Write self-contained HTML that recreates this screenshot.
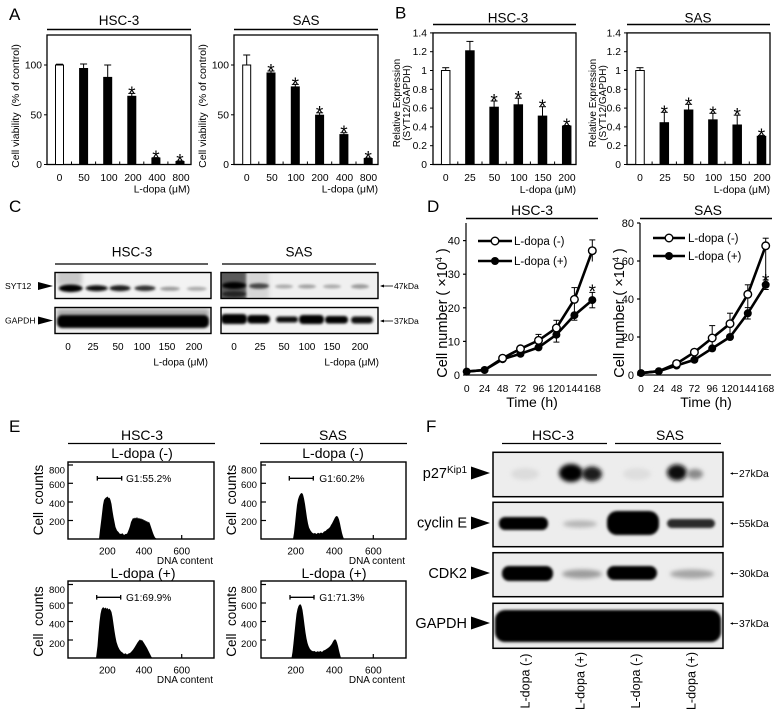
<!DOCTYPE html>
<html><head><meta charset="utf-8"><style>html,body{margin:0;padding:0;background:#fff}svg{display:block}</style></head>
<body>
<svg width="781" height="718" viewBox="0 0 781 718" xmlns="http://www.w3.org/2000/svg" font-family="Liberation Sans, Arial, sans-serif" fill="#000">
<defs>
<filter id="b1" x="-50%" y="-50%" width="200%" height="200%"><feGaussianBlur stdDeviation="1.2"/></filter>
<filter id="b2" x="-50%" y="-50%" width="200%" height="200%"><feGaussianBlur stdDeviation="2.2"/></filter>
<filter id="b3" x="-50%" y="-50%" width="200%" height="200%"><feGaussianBlur stdDeviation="3.5"/></filter>
<clipPath id="c1"><rect x="55" y="272.5" width="156" height="26"/></clipPath>
<clipPath id="c2"><rect x="221" y="272.5" width="157" height="26"/></clipPath>
<clipPath id="c3"><rect x="55" y="307.5" width="156" height="26"/></clipPath>
<clipPath id="c4"><rect x="221" y="307.5" width="157" height="26"/></clipPath>
<clipPath id="f1"><rect x="493" y="452.3" width="230" height="44.4"/></clipPath>
<clipPath id="f2"><rect x="493" y="502.3" width="230" height="44.4"/></clipPath>
<clipPath id="f3"><rect x="493" y="552.7" width="230" height="44"/></clipPath>
<clipPath id="f4"><rect x="493" y="603.3" width="230" height="45"/></clipPath>
</defs>

<!-- ============ PANEL A ============ -->
<text x="9" y="20" font-size="17">A</text>
<!-- HSC-3 -->
<text x="119" y="25" font-size="13.5" text-anchor="middle">HSC-3</text>
<line x1="47" y1="29.5" x2="191" y2="29.5" stroke="#000" stroke-width="1.6"/>
<rect x="47" y="35" width="144" height="129.5" fill="none" stroke="#000" stroke-width="1.3"/>
<g stroke="#000" stroke-width="1"><line x1="44" y1="65" x2="47" y2="65"/><line x1="44" y1="114.8" x2="47" y2="114.8"/><line x1="44" y1="164.5" x2="47" y2="164.5"/>
<line x1="71.5" y1="164.5" x2="71.5" y2="161.5"/><line x1="95.6" y1="164.5" x2="95.6" y2="161.5"/><line x1="119.7" y1="164.5" x2="119.7" y2="161.5"/><line x1="143.8" y1="164.5" x2="143.8" y2="161.5"/><line x1="167.9" y1="164.5" x2="167.9" y2="161.5"/></g>
<g font-size="10.3" text-anchor="end"><text x="42" y="68.7">100</text><text x="42" y="118.5">50</text><text x="42" y="168.2">0</text></g>
<text transform="translate(19,106) rotate(-90)" font-size="10.5" text-anchor="middle" xml:space="preserve">Cell viability  (% of control)</text>
<g stroke="#000" stroke-width="1">
<rect x="55.5" y="65" width="8" height="99.5" fill="#fff"/>
<line x1="59.5" y1="65" x2="59.5" y2="64.2"/><line x1="56" y1="64.2" x2="63" y2="64.2"/>
<rect x="79.6" y="68.5" width="8" height="96" fill="#000"/><line x1="83.6" y1="68.5" x2="83.6" y2="64"/><line x1="80.1" y1="64" x2="87.1" y2="64"/>
<rect x="103.7" y="77.4" width="8" height="87.1" fill="#000"/><line x1="107.7" y1="77.4" x2="107.7" y2="65"/><line x1="104.2" y1="65" x2="111.2" y2="65"/>
<rect x="127.8" y="96.3" width="8" height="68.2" fill="#000"/><line x1="131.8" y1="96.3" x2="131.8" y2="93.4"/><line x1="128.3" y1="93.4" x2="135.3" y2="93.4"/>
<rect x="151.9" y="158" width="8" height="6.5" fill="#000"/><line x1="152.4" y1="157.6" x2="159.4" y2="157.6"/>
<rect x="176" y="161.5" width="8" height="3" fill="#000"/><line x1="176.5" y1="160.9" x2="183.5" y2="160.9"/>
</g>
<g font-size="19" text-anchor="middle"><text x="131.8" y="100">*</text><text x="155.9" y="164">*</text><text x="180" y="167.4">*</text></g>
<g font-size="10.3" text-anchor="middle"><text x="59.5" y="181">0</text><text x="84" y="181">50</text><text x="109" y="181">100</text><text x="133" y="181">200</text><text x="157" y="181">400</text><text x="181" y="181">800</text></g>
<text x="190" y="192.5" font-size="10.3" text-anchor="end">L-dopa (μM)</text>

<!-- SAS -->
<text x="306" y="25" font-size="13.5" text-anchor="middle">SAS</text>
<line x1="234" y1="29.5" x2="378" y2="29.5" stroke="#000" stroke-width="1.6"/>
<rect x="234" y="35" width="144" height="129.5" fill="none" stroke="#000" stroke-width="1.3"/>
<g stroke="#000" stroke-width="1"><line x1="231" y1="65" x2="234" y2="65"/><line x1="231" y1="114.8" x2="234" y2="114.8"/><line x1="231" y1="164.5" x2="234" y2="164.5"/>
<line x1="258.8" y1="164.5" x2="258.8" y2="161.5"/><line x1="283.1" y1="164.5" x2="283.1" y2="161.5"/><line x1="307.4" y1="164.5" x2="307.4" y2="161.5"/><line x1="331.7" y1="164.5" x2="331.7" y2="161.5"/><line x1="356" y1="164.5" x2="356" y2="161.5"/></g>
<g font-size="10.3" text-anchor="end"><text x="229" y="68.7">100</text><text x="229" y="118.5">50</text><text x="229" y="168.2">0</text></g>
<text transform="translate(206,106) rotate(-90)" font-size="10.5" text-anchor="middle" xml:space="preserve">Cell viability  (% of control)</text>
<g stroke="#000" stroke-width="1">
<rect x="242.7" y="65" width="8" height="99.5" fill="#fff"/><line x1="246.7" y1="65" x2="246.7" y2="55"/><line x1="243.2" y1="55" x2="250.2" y2="55"/>
<rect x="267" y="73" width="8" height="91.5" fill="#000"/><line x1="271" y1="73" x2="271" y2="71"/><line x1="267.5" y1="71" x2="274.5" y2="71"/>
<rect x="291.3" y="86.9" width="8" height="77.6" fill="#000"/><line x1="295.3" y1="86.9" x2="295.3" y2="84.4"/><line x1="291.8" y1="84.4" x2="298.8" y2="84.4"/>
<rect x="315.6" y="115.2" width="8" height="49.3" fill="#000"/><line x1="319.6" y1="115.2" x2="319.6" y2="112.8"/><line x1="316.1" y1="112.8" x2="323.1" y2="112.8"/>
<rect x="339.9" y="134.6" width="8" height="29.9" fill="#000"/><line x1="343.9" y1="134.6" x2="343.9" y2="132.7"/><line x1="340.4" y1="132.7" x2="347.4" y2="132.7"/>
<rect x="364.2" y="158.5" width="8" height="6" fill="#000"/><line x1="364.7" y1="158" x2="371.7" y2="158"/>
</g>
<g font-size="19" text-anchor="middle"><text x="271" y="77.5">*</text><text x="295.3" y="90.9">*</text><text x="319.6" y="119.3">*</text><text x="343.9" y="139.2">*</text><text x="368.2" y="164.5">*</text></g>
<g font-size="10.3" text-anchor="middle"><text x="246.7" y="181">0</text><text x="272" y="181">50</text><text x="296" y="181">100</text><text x="320" y="181">200</text><text x="344.5" y="181">400</text><text x="368.5" y="181">800</text></g>
<text x="378" y="192.5" font-size="10.3" text-anchor="end">L-dopa (μM)</text>

<!-- ============ PANEL B ============ -->
<text x="395" y="18.5" font-size="17">B</text>
<text x="508" y="22.5" font-size="13.5" text-anchor="middle">HSC-3</text>
<line x1="433" y1="24.5" x2="576" y2="24.5" stroke="#000" stroke-width="1.6"/>
<rect x="433" y="32.9" width="143" height="131.6" fill="none" stroke="#000" stroke-width="1.3"/>
<g stroke="#000" stroke-width="1"><line x1="430" y1="164.5" x2="433" y2="164.5"/><line x1="430" y1="145.7" x2="433" y2="145.7"/><line x1="430" y1="126.9" x2="433" y2="126.9"/><line x1="430" y1="108.1" x2="433" y2="108.1"/><line x1="430" y1="89.3" x2="433" y2="89.3"/><line x1="430" y1="70.5" x2="433" y2="70.5"/><line x1="430" y1="51.7" x2="433" y2="51.7"/><line x1="430" y1="32.9" x2="433" y2="32.9"/>
<line x1="457.8" y1="164.5" x2="457.8" y2="161.5"/><line x1="482" y1="164.5" x2="482" y2="161.5"/><line x1="506.2" y1="164.5" x2="506.2" y2="161.5"/><line x1="530.4" y1="164.5" x2="530.4" y2="161.5"/><line x1="554.6" y1="164.5" x2="554.6" y2="161.5"/></g>
<g font-size="10.3" text-anchor="end"><text x="427" y="168">0</text><text x="427" y="149.2">0.2</text><text x="427" y="130.4">0.4</text><text x="427" y="111.6">0.6</text><text x="427" y="92.8">0.8</text><text x="427" y="74">1</text><text x="427" y="55.2">1.2</text><text x="427" y="36.4">1.4</text></g>
<text transform="translate(400,103) rotate(-90)" font-size="10" text-anchor="middle">Relative Expression</text>
<text transform="translate(410,103) rotate(-90)" font-size="10" text-anchor="middle">(SYT12/GAPDH)</text>
<g stroke="#000" stroke-width="1">
<rect x="441.45" y="70.5" width="8.5" height="94" fill="#fff"/><line x1="445.7" y1="70.5" x2="445.7" y2="67.7"/><line x1="442.2" y1="67.7" x2="449.2" y2="67.7"/>
<rect x="465.65" y="50.8" width="8.5" height="113.7" fill="#000"/><line x1="469.9" y1="50.8" x2="469.9" y2="41.4"/><line x1="466.4" y1="41.4" x2="473.4" y2="41.4"/>
<rect x="489.85" y="107.2" width="8.5" height="57.3" fill="#000"/><line x1="494.1" y1="107.2" x2="494.1" y2="101"/><line x1="490.6" y1="101" x2="497.6" y2="101"/>
<rect x="514.05" y="104.8" width="8.5" height="59.7" fill="#000"/><line x1="518.3" y1="104.8" x2="518.3" y2="98.2"/><line x1="514.8" y1="98.2" x2="521.8" y2="98.2"/>
<rect x="538.25" y="116.1" width="8.5" height="48.4" fill="#000"/><line x1="542.5" y1="116.1" x2="542.5" y2="106.7"/><line x1="539" y1="106.7" x2="546" y2="106.7"/>
<rect x="562.45" y="126" width="8.5" height="38.5" fill="#000"/><line x1="563.2" y1="125.5" x2="570.2" y2="125.5"/>
</g>
<g font-size="19" text-anchor="middle"><text x="494.1" y="107.5">*</text><text x="518.3" y="104.7">*</text><text x="542.5" y="113.2">*</text><text x="566.7" y="132">*</text></g>
<g font-size="10.3" text-anchor="middle"><text x="445.7" y="181">0</text><text x="470" y="181">25</text><text x="494.5" y="181">50</text><text x="519" y="181">100</text><text x="543" y="181">150</text><text x="567" y="181">200</text></g>
<text x="576" y="193" font-size="10.3" text-anchor="end">L-dopa (μM)</text>

<text x="698" y="22.5" font-size="13.5" text-anchor="middle">SAS</text>
<line x1="627" y1="24.5" x2="770" y2="24.5" stroke="#000" stroke-width="1.6"/>
<rect x="627" y="32.9" width="143" height="131.6" fill="none" stroke="#000" stroke-width="1.3"/>
<g stroke="#000" stroke-width="1"><line x1="624" y1="164.5" x2="627" y2="164.5"/><line x1="624" y1="145.7" x2="627" y2="145.7"/><line x1="624" y1="126.9" x2="627" y2="126.9"/><line x1="624" y1="108.1" x2="627" y2="108.1"/><line x1="624" y1="89.3" x2="627" y2="89.3"/><line x1="624" y1="70.5" x2="627" y2="70.5"/><line x1="624" y1="51.7" x2="627" y2="51.7"/><line x1="624" y1="32.9" x2="627" y2="32.9"/>
<line x1="652.1" y1="164.5" x2="652.1" y2="161.5"/><line x1="676.4" y1="164.5" x2="676.4" y2="161.5"/><line x1="700.7" y1="164.5" x2="700.7" y2="161.5"/><line x1="725" y1="164.5" x2="725" y2="161.5"/><line x1="749.3" y1="164.5" x2="749.3" y2="161.5"/></g>
<g font-size="10.3" text-anchor="end"><text x="621" y="168">0</text><text x="621" y="149.2">0.2</text><text x="621" y="130.4">0.4</text><text x="621" y="111.6">0.6</text><text x="621" y="92.8">0.8</text><text x="621" y="74">1</text><text x="621" y="55.2">1.2</text><text x="621" y="36.4">1.4</text></g>
<text transform="translate(596,103) rotate(-90)" font-size="10" text-anchor="middle">Relative Expression</text>
<text transform="translate(606,103) rotate(-90)" font-size="10" text-anchor="middle">(SYT12/GAPDH)</text>
<g stroke="#000" stroke-width="1">
<rect x="635.75" y="70.5" width="8.5" height="94" fill="#fff"/><line x1="640" y1="70.5" x2="640" y2="67.7"/><line x1="636.5" y1="67.7" x2="643.5" y2="67.7"/>
<rect x="660.05" y="122.7" width="8.5" height="41.8" fill="#000"/><line x1="664.3" y1="122.7" x2="664.3" y2="112.3"/><line x1="660.8" y1="112.3" x2="667.8" y2="112.3"/>
<rect x="684.35" y="110" width="8.5" height="54.5" fill="#000"/><line x1="688.6" y1="110" x2="688.6" y2="104.3"/><line x1="685.1" y1="104.3" x2="692.1" y2="104.3"/>
<rect x="708.65" y="119.85" width="8.5" height="44.65" fill="#000"/><line x1="712.9" y1="119.85" x2="712.9" y2="113.3"/><line x1="709.4" y1="113.3" x2="716.4" y2="113.3"/>
<rect x="732.95" y="125" width="8.5" height="39.5" fill="#000"/><line x1="737.2" y1="125" x2="737.2" y2="115.15"/><line x1="733.7" y1="115.15" x2="740.7" y2="115.15"/>
<rect x="757.25" y="136.3" width="8.5" height="28.2" fill="#000"/><line x1="758" y1="135.4" x2="765" y2="135.4"/>
</g>
<g font-size="19" text-anchor="middle"><text x="664.3" y="118.8">*</text><text x="688.6" y="110.8">*</text><text x="712.9" y="119.8">*</text><text x="737.2" y="121.6">*</text><text x="761.5" y="141.9">*</text></g>
<g font-size="10.3" text-anchor="middle"><text x="640" y="181">0</text><text x="665" y="181">25</text><text x="689" y="181">50</text><text x="713.5" y="181">100</text><text x="738" y="181">150</text><text x="762" y="181">200</text></g>
<text x="770" y="193" font-size="10.3" text-anchor="end">L-dopa (μM)</text>

<!-- ============ PANEL C ============ -->
<text x="9" y="212" font-size="17">C</text>
<text x="132" y="256.5" font-size="13.5" text-anchor="middle">HSC-3</text>
<text x="299" y="256.5" font-size="13.5" text-anchor="middle">SAS</text>
<line x1="55" y1="264" x2="208" y2="264" stroke="#000" stroke-width="1.3"/>
<line x1="222" y1="264" x2="376" y2="264" stroke="#000" stroke-width="1.3"/>
<!-- SYT12 HSC-3 -->
<rect x="55" y="272.5" width="156" height="26" fill="#f3f3f3"/>
<g clip-path="url(#c1)">
<rect x="57" y="270" width="25" height="15" fill="#c8c8c8" filter="url(#b2)"/>
<ellipse cx="70.7" cy="288.3" rx="12" ry="3.8" fill="#000" filter="url(#b1)"/>
<ellipse cx="96.7" cy="288.3" rx="11" ry="3" fill="#111" filter="url(#b1)"/>
<ellipse cx="120" cy="288.3" rx="10.5" ry="3" fill="#1a1a1a" filter="url(#b1)"/>
<ellipse cx="145" cy="288.3" rx="10.5" ry="2.8" fill="#333" filter="url(#b1)"/>
<ellipse cx="170" cy="288.8" rx="10" ry="2" fill="#999" filter="url(#b1)"/>
<ellipse cx="196.7" cy="288.8" rx="10" ry="2" fill="#aaa" filter="url(#b1)"/>
</g>
<rect x="55" y="272.5" width="156" height="26" fill="none" stroke="#000" stroke-width="1.4"/>
<!-- SYT12 SAS -->
<rect x="221" y="272.5" width="157" height="26" fill="#f0f0f0"/>
<g clip-path="url(#c2)">
<rect x="219" y="270" width="28" height="32" fill="#5a5a5a" filter="url(#b1)"/>
<rect x="247" y="270" width="22" height="30" fill="#d6d6d6" filter="url(#b2)"/>
<ellipse cx="234" cy="285.5" rx="12" ry="3.5" fill="#000" filter="url(#b1)"/>
<ellipse cx="234" cy="294" rx="12" ry="3" fill="#222" filter="url(#b1)"/>
<ellipse cx="259" cy="286" rx="10" ry="2.8" fill="#444" filter="url(#b1)"/>
<ellipse cx="284" cy="286.5" rx="9" ry="2" fill="#aaa" filter="url(#b1)"/>
<ellipse cx="307" cy="286.5" rx="9" ry="2" fill="#a0a0a0" filter="url(#b1)"/>
<ellipse cx="332" cy="286.5" rx="9" ry="2" fill="#aaa" filter="url(#b1)"/>
<ellipse cx="360" cy="286.5" rx="9" ry="2.2" fill="#999" filter="url(#b1)"/>
</g>
<rect x="221" y="272.5" width="157" height="26" fill="none" stroke="#000" stroke-width="1.4"/>
<!-- GAPDH HSC-3 -->
<rect x="55" y="307.5" width="156" height="26" fill="#f0f0f0"/>
<g clip-path="url(#c3)">
<rect x="57" y="309" width="152" height="9" fill="#aaa" filter="url(#b2)"/>
<rect x="57" y="315" width="152" height="13" rx="5" fill="#000" filter="url(#b1)"/>
</g>
<rect x="55" y="307.5" width="156" height="26" fill="none" stroke="#000" stroke-width="1.4"/>
<!-- GAPDH SAS -->
<rect x="221" y="307.5" width="157" height="26" fill="#f3f3f3"/>
<g clip-path="url(#c4)">
<rect x="221" y="314" width="26" height="10" rx="4" fill="#000" filter="url(#b1)"/>
<rect x="247" y="315" width="23" height="8.5" rx="4" fill="#000" filter="url(#b1)"/>
<rect x="276" y="316.5" width="22" height="6" rx="3" fill="#111" filter="url(#b1)"/>
<rect x="299" y="315" width="25" height="9" rx="4" fill="#000" filter="url(#b1)"/>
<rect x="325" y="316" width="23" height="7.5" rx="3.5" fill="#000" filter="url(#b1)"/>
<rect x="351" y="316.5" width="22" height="7" rx="3.5" fill="#111" filter="url(#b1)"/>
</g>
<rect x="221" y="307.5" width="157" height="26" fill="none" stroke="#000" stroke-width="1.4"/>
<!-- labels -->
<text x="5" y="289" font-size="8.6">SYT12</text>
<polygon points="38,282 53,286 38,290"/>
<text x="5" y="323.5" font-size="8.6">GAPDH</text>
<polygon points="38,316.5 53,320.5 38,324.5"/>
<line x1="381" y1="286" x2="393" y2="286" stroke="#000" stroke-width="0.8"/><polygon points="380,286 384,284.5 384,287.5"/>
<text x="394" y="289" font-size="8.6">47kDa</text>
<line x1="381" y1="321" x2="393" y2="321" stroke="#000" stroke-width="0.8"/><polygon points="380,321 384,319.5 384,322.5"/>
<text x="394" y="324" font-size="8.6">37kDa</text>
<g font-size="10" text-anchor="middle"><text x="68" y="350">0</text><text x="93" y="350">25</text><text x="118" y="350">50</text><text x="142" y="350">100</text><text x="167" y="350">150</text><text x="194" y="350">200</text>
<text x="234" y="350">0</text><text x="260" y="350">25</text><text x="284" y="350">50</text><text x="307" y="350">100</text><text x="332" y="350">150</text><text x="360" y="350">200</text></g>
<text x="208" y="365.5" font-size="10" text-anchor="end">L-dopa (μM)</text>
<text x="379" y="365.5" font-size="10" text-anchor="end">L-dopa (μM)</text>

<!-- ============ PANEL D ============ -->
<text x="427" y="212" font-size="17">D</text>
<text x="532" y="215" font-size="14" text-anchor="middle">HSC-3</text>
<line x1="466" y1="218.5" x2="598" y2="218.5" stroke="#000" stroke-width="1.6"/>
<g stroke="#000" stroke-width="1.2">
<line x1="466" y1="223" x2="466" y2="375"/><line x1="466" y1="375" x2="597" y2="375"/>
<line x1="463" y1="375" x2="466" y2="375"/><line x1="463" y1="341.4" x2="466" y2="341.4"/><line x1="463" y1="307.8" x2="466" y2="307.8"/><line x1="463" y1="274.2" x2="466" y2="274.2"/><line x1="463" y1="240.6" x2="466" y2="240.6"/>
</g>
<g font-size="11" text-anchor="end"><text x="460" y="379">0</text><text x="460" y="345.4">10</text><text x="460" y="311.8">20</text><text x="460" y="278.2">30</text><text x="460" y="244.6">40</text></g>
<g font-size="10.3" text-anchor="middle"><text x="466.7" y="392">0</text><text x="484.6" y="392">24</text><text x="502.6" y="392">48</text><text x="520.5" y="392">72</text><text x="538.5" y="392">96</text><text x="556.4" y="392">120</text><text x="574.4" y="392">144</text><text x="592.3" y="392">168</text></g>
<text x="532" y="407" font-size="14" text-anchor="middle">Time (h)</text>
<text transform="translate(447,313) rotate(-90)" font-size="14.5" text-anchor="middle">Cell number ( ×10<tspan font-size="9" dy="-5">4</tspan><tspan dy="5"> )</tspan></text>
<g stroke="#000" stroke-width="1">
<line x1="502.6" y1="356.5" x2="502.6" y2="361"/><line x1="520.5" y1="347" x2="520.5" y2="355.5"/>
<line x1="538.5" y1="334.4" x2="538.5" y2="346.4"/><line x1="535.5" y1="334.4" x2="541.5" y2="334.4"/>
<line x1="556.4" y1="320.3" x2="556.4" y2="342.1"/><line x1="553.4" y1="320.3" x2="559.4" y2="320.3"/><line x1="553.4" y1="342.1" x2="559.4" y2="342.1"/>
<line x1="574.4" y1="287.6" x2="574.4" y2="320.2"/><line x1="571.4" y1="287.6" x2="577.4" y2="287.6"/><line x1="571.4" y1="320.2" x2="577.4" y2="320.2"/>
<line x1="592.3" y1="239.9" x2="592.3" y2="261.5"/><line x1="589.3" y1="239.9" x2="595.3" y2="239.9"/>
<line x1="592.3" y1="292.4" x2="592.3" y2="307.8"/><line x1="589.3" y1="307.8" x2="595.3" y2="307.8"/><line x1="589.3" y1="292.4" x2="595.3" y2="292.4"/>
</g>
<polyline points="466.7,371.6 484.6,370 502.6,359.2 520.5,353.8 538.5,347.4 556.4,334.7 574.4,315.2 592.3,300.1" fill="none" stroke="#000" stroke-width="2.6"/>
<polyline points="466.7,371.6 484.6,370 502.6,358.2 520.5,348.8 538.5,340.4 556.4,328 574.4,299.4 592.3,250.7" fill="none" stroke="#000" stroke-width="2.6"/>
<g fill="#000"><circle cx="466.7" cy="371.6" r="4"/><circle cx="484.6" cy="370" r="4"/><circle cx="502.6" cy="359.2" r="4"/><circle cx="520.5" cy="353.8" r="4"/><circle cx="538.5" cy="347.4" r="4"/><circle cx="556.4" cy="334.7" r="4"/><circle cx="574.4" cy="315.2" r="4"/><circle cx="592.3" cy="300.1" r="4"/></g>
<g fill="#fff" stroke="#000" stroke-width="1.4"><circle cx="502.6" cy="358.2" r="3.8"/><circle cx="520.5" cy="348.8" r="3.8"/><circle cx="538.5" cy="340.4" r="3.8"/><circle cx="556.4" cy="328" r="3.8"/><circle cx="574.4" cy="299.4" r="3.8"/><circle cx="592.3" cy="250.7" r="3.8"/></g>
<text x="592.3" y="298" font-size="19" text-anchor="middle">*</text>
<line x1="478" y1="241" x2="512" y2="241" stroke="#000" stroke-width="2.6"/><circle cx="495" cy="241" r="3.8" fill="#fff" stroke="#000" stroke-width="1.4"/>
<text x="514" y="245" font-size="11.5">L-dopa (-)</text>
<line x1="478" y1="261" x2="512" y2="261" stroke="#000" stroke-width="2.6"/><circle cx="495" cy="261" r="4"/>
<text x="514" y="265" font-size="11.5">L-dopa (+)</text>

<!-- SAS D -->
<text x="708" y="215" font-size="14" text-anchor="middle">SAS</text>
<line x1="640" y1="218.5" x2="772" y2="218.5" stroke="#000" stroke-width="1.6"/>
<g stroke="#000" stroke-width="1.2">
<line x1="640" y1="223" x2="640" y2="375"/><line x1="640" y1="375" x2="771" y2="375"/>
<line x1="637" y1="375" x2="640" y2="375"/><line x1="637" y1="337" x2="640" y2="337"/><line x1="637" y1="299" x2="640" y2="299"/><line x1="637" y1="261" x2="640" y2="261"/><line x1="637" y1="223" x2="640" y2="223"/>
</g>
<g font-size="11" text-anchor="end"><text x="634" y="379">0</text><text x="634" y="341">20</text><text x="634" y="303">40</text><text x="634" y="265">60</text><text x="634" y="227">80</text></g>
<g font-size="10.3" text-anchor="middle"><text x="641" y="392">0</text><text x="658.8" y="392">24</text><text x="676.6" y="392">48</text><text x="694.4" y="392">72</text><text x="712.2" y="392">96</text><text x="730" y="392">120</text><text x="747.8" y="392">144</text><text x="765.7" y="392">168</text></g>
<text x="706" y="407" font-size="14" text-anchor="middle">Time (h)</text>
<text transform="translate(624,313) rotate(-90)" font-size="14.5" text-anchor="middle">Cell number ( ×10<tspan font-size="9" dy="-5">4</tspan><tspan dy="5"> )</tspan></text>
<g stroke="#000" stroke-width="1">
<line x1="694.4" y1="350.3" x2="694.4" y2="361.3"/>
<line x1="712.2" y1="325.6" x2="712.2" y2="350.7"/><line x1="709.2" y1="325.6" x2="715.2" y2="325.6"/><line x1="709.2" y1="350.7" x2="715.2" y2="350.7"/>
<line x1="730" y1="313.2" x2="730" y2="338.9"/><line x1="727" y1="313.2" x2="733" y2="313.2"/>
<line x1="747.8" y1="284.8" x2="747.8" y2="319"/><line x1="744.8" y1="284.8" x2="750.8" y2="284.8"/><line x1="744.8" y1="319" x2="750.8" y2="319"/><line x1="744.8" y1="307.6" x2="750.8" y2="307.6"/>
<line x1="765.7" y1="238.2" x2="765.7" y2="289.5"/><line x1="762.7" y1="238.2" x2="768.7" y2="238.2"/><line x1="762.7" y1="280" x2="768.7" y2="280"/><line x1="762.7" y1="289.5" x2="768.7" y2="289.5"/>
</g>
<polyline points="641,373.1 658.8,371.2 676.6,365.5 694.4,359.8 712.2,348.4 730,337 747.8,313.3 765.7,284.8" fill="none" stroke="#000" stroke-width="2.6"/>
<polyline points="641,373.1 658.8,371.2 676.6,363.6 694.4,352.2 712.2,338 730,323.7 747.8,294.3 765.7,245.8" fill="none" stroke="#000" stroke-width="2.6"/>
<g fill="#000"><circle cx="641" cy="373.1" r="4"/><circle cx="658.8" cy="371.2" r="4"/><circle cx="676.6" cy="365.5" r="4"/><circle cx="694.4" cy="359.8" r="4"/><circle cx="712.2" cy="348.4" r="4"/><circle cx="730" cy="337" r="4"/><circle cx="747.8" cy="313.3" r="4"/><circle cx="765.7" cy="284.8" r="4"/></g>
<g fill="#fff" stroke="#000" stroke-width="1.4"><circle cx="676.6" cy="363.6" r="3.8"/><circle cx="694.4" cy="352.2" r="3.8"/><circle cx="712.2" cy="338" r="3.8"/><circle cx="730" cy="323.7" r="3.8"/><circle cx="747.8" cy="294.3" r="3.8"/><circle cx="765.7" cy="245.8" r="3.8"/></g>
<text x="765.7" y="287.7" font-size="19" text-anchor="middle">*</text>
<line x1="653" y1="238" x2="685" y2="238" stroke="#000" stroke-width="2.6"/><circle cx="669" cy="238" r="3.8" fill="#fff" stroke="#000" stroke-width="1.4"/>
<text x="688" y="242" font-size="11.5">L-dopa (-)</text>
<line x1="653" y1="256" x2="685" y2="256" stroke="#000" stroke-width="2.6"/><circle cx="669" cy="256" r="4"/>
<text x="688" y="260" font-size="11.5">L-dopa (+)</text>

<!-- ============ PANEL E ============ -->
<text x="9" y="432" font-size="17">E</text>
<text x="142" y="440" font-size="14" text-anchor="middle">HSC-3</text>
<text x="333" y="440" font-size="14" text-anchor="middle">SAS</text>
<line x1="68" y1="443.5" x2="215" y2="443.5" stroke="#000" stroke-width="1.3"/>
<line x1="260" y1="443.5" x2="407" y2="443.5" stroke="#000" stroke-width="1.3"/>
<text x="142" y="458" font-size="14" text-anchor="middle">L-dopa (-)</text>
<text x="333" y="458" font-size="14" text-anchor="middle">L-dopa (-)</text>
<text x="143" y="578" font-size="14" text-anchor="middle">L-dopa (+)</text>
<text x="334" y="578" font-size="14" text-anchor="middle">L-dopa (+)</text>

<!-- HSC-3 upper hist -->
<path d="M99,539 L100,530 101.5,518 103,505 104,500 105,498.5 106,497.5 107,497 107.8,496.5 108.5,498 109.5,497.8 110.5,500 111.5,504 112.5,511 113.5,517 114.5,522 115.5,527 117,530.5 118.5,532 119.5,533.5 121,534 122.5,533.2 124,535 125.5,534 127,533.8 128,531.5 129,529 130,526 131,522 132,520 133,518 134,518.6 135,517.5 136,518.5 137,517 138,518.8 139,517.8 140,519 141,518.2 142,519.5 143,519 144,520.5 145,520 146,521.5 147,521 148,522.5 149,521.8 150,524 151,527 152,530 153,533 154,535.5 155,537.5 157,539 Z"/>
<!-- HSC-3 lower hist -->
<path d="M96,658 L97.5,646 98.5,633 99.5,622 100.5,614 101.5,609.5 102.5,607.8 103.5,607.3 104.5,608.5 105.5,607.5 106.5,608.8 107.5,608 108.5,609.5 109.5,608.6 110.5,610 111.5,612 112.5,617 113.5,624 114.5,631 115.5,637 116.5,642 118,646.5 119.5,649.5 121,651.5 122.5,652.5 124,654 125.5,653.2 127,654.5 128.5,653.5 130,653 131.5,651.5 133,649.8 134.5,647.5 136,645 137.5,642.5 139,640.5 140,639.5 141,640.5 142,640 143,641.5 144,643 145.5,645.5 147,648 148.5,651 150,654 151.5,657 152.5,658 Z"/>
<!-- SAS upper hist -->
<path d="M293,539 L294,533 295,524 296,514 297,505 298,499.5 299,496.5 300,494.5 301,493.3 302,493 303,494.5 304,498.5 305,504 306,511 307,518 308,523.5 309,527.5 310.5,530.5 312,532.5 313.5,533.5 315,533 316.5,534 318,532.8 319.5,533.5 321,532.5 322.5,533.2 324,531.5 325.5,531 327,529.5 328.5,528.5 330,527 331,525 332,523.5 333,521.5 334,519.5 335,517.5 336,516.3 337,516 338,517 339,519.5 340,523.5 341,528.5 342,533 343,536.5 344,539 Z"/>
<!-- SAS lower hist -->
<path d="M291.5,658 L292.5,652 293.5,643 294.5,633 295.5,623 296.5,614 297.5,609 298.5,606 299.5,604.6 300.5,604.3 301.5,606 302.5,610 303.5,617 304.5,625 305.5,632.5 306.5,638.5 307.5,643 308.5,646 310,649 311.5,650.5 313,651.3 314.5,651 316,652 317.5,651.3 319,651.8 320.5,651 322,652 323.5,650.5 325,650 326.5,649 328,648 329.5,646.8 331,645 332,643.5 333,641.5 334,640 335,639.3 336,640 337,642.5 338,646 339,650.5 340,654.5 341,658 Z"/>

<g fill="none" stroke="#000" stroke-width="1.4">
<rect x="68" y="462" width="146" height="77"/><rect x="261" y="462" width="145" height="77"/>
<rect x="68" y="581" width="146" height="77"/><rect x="261" y="581" width="145" height="77"/>
</g>
<g stroke="#000" stroke-width="1.2">
<line x1="68" y1="465" x2="73" y2="465"/><line x1="68" y1="483.3" x2="73" y2="483.3"/><line x1="68" y1="502" x2="73" y2="502"/><line x1="68" y1="520.5" x2="73" y2="520.5"/>
<line x1="261" y1="465" x2="266" y2="465"/><line x1="261" y1="483.3" x2="266" y2="483.3"/><line x1="261" y1="502" x2="266" y2="502"/><line x1="261" y1="520.5" x2="266" y2="520.5"/>
<line x1="68" y1="584.5" x2="73" y2="584.5"/><line x1="68" y1="603" x2="73" y2="603"/><line x1="68" y1="621.5" x2="73" y2="621.5"/><line x1="68" y1="640" x2="73" y2="640"/>
<line x1="261" y1="584.5" x2="266" y2="584.5"/><line x1="261" y1="603" x2="266" y2="603"/><line x1="261" y1="621.5" x2="266" y2="621.5"/><line x1="261" y1="640" x2="266" y2="640"/>
<line x1="181.7" y1="539" x2="181.7" y2="535"/><line x1="373.3" y1="539" x2="373.3" y2="535"/>
<line x1="181.7" y1="658" x2="181.7" y2="654"/><line x1="373.3" y1="658" x2="373.3" y2="654"/>
</g>
<g font-size="9.6" text-anchor="end">
<text x="65" y="473.5">800</text><text x="65" y="487.8">600</text><text x="65" y="506.8">400</text><text x="65" y="525.2">200</text>
<text x="65" y="592.8">800</text><text x="65" y="609">600</text><text x="65" y="627.5">400</text><text x="65" y="646.8">200</text>
<text x="257" y="473.5">800</text><text x="257" y="487.8">600</text><text x="257" y="506.8">400</text><text x="257" y="525.2">200</text>
<text x="257" y="592.8">800</text><text x="257" y="609">600</text><text x="257" y="627.5">400</text><text x="257" y="646.8">200</text>
</g>
<g font-size="13.5" text-anchor="middle">
<text transform="translate(43,500) rotate(-90)" xml:space="preserve">Cell  counts</text>
<text transform="translate(43,621.5) rotate(-90)" xml:space="preserve">Cell  counts</text>
<text transform="translate(236,500) rotate(-90)" xml:space="preserve">Cell  counts</text>
<text transform="translate(236,621.5) rotate(-90)" xml:space="preserve">Cell  counts</text>
</g>
<g font-size="10" text-anchor="middle">
<text x="107.3" y="554.3">200</text><text x="144" y="554.3">400</text><text x="181.7" y="554.3">600</text>
<text x="295.7" y="554.3">200</text><text x="334.3" y="554.3">400</text><text x="373.3" y="554.3">600</text>
<text x="107.3" y="673.5">200</text><text x="144" y="673.5">400</text><text x="181.7" y="673.5">600</text>
<text x="295.7" y="673.5">200</text><text x="334.3" y="673.5">400</text><text x="373.3" y="673.5">600</text>
</g>
<g font-size="10" text-anchor="end">
<text x="213" y="564">DNA content</text><text x="405" y="564">DNA content</text>
<text x="213" y="683">DNA content</text><text x="405" y="683">DNA content</text>
</g>
<g stroke="#000" stroke-width="1.3">
<line x1="97.3" y1="478.3" x2="121.7" y2="478.3"/><line x1="97.3" y1="476" x2="97.3" y2="480.6"/><line x1="121.7" y1="476" x2="121.7" y2="480.6"/>
<line x1="96.7" y1="597.3" x2="120.7" y2="597.3"/><line x1="96.7" y1="595" x2="96.7" y2="599.6"/><line x1="120.7" y1="595" x2="120.7" y2="599.6"/>
<line x1="289.3" y1="478.3" x2="313.3" y2="478.3"/><line x1="289.3" y1="476" x2="289.3" y2="480.6"/><line x1="313.3" y1="476" x2="313.3" y2="480.6"/>
<line x1="290" y1="597.3" x2="314" y2="597.3"/><line x1="290" y1="595" x2="290" y2="599.6"/><line x1="314" y1="595" x2="314" y2="599.6"/>
</g>
<g font-size="10.2">
<text x="126" y="482">G1:55.2%</text><text x="126" y="601">G1:69.9%</text>
<text x="319.3" y="482">G1:60.2%</text><text x="319.3" y="601">G1:71.3%</text>
</g>

<!-- ============ PANEL F ============ -->
<text x="426" y="432" font-size="17">F</text>
<text x="553" y="440" font-size="14" text-anchor="middle">HSC-3</text>
<text x="670" y="440" font-size="14" text-anchor="middle">SAS</text>
<line x1="502" y1="443.5" x2="607" y2="443.5" stroke="#000" stroke-width="1.3"/>
<line x1="615" y1="443.5" x2="721" y2="443.5" stroke="#000" stroke-width="1.3"/>

<!-- p27 -->
<rect x="493" y="452.3" width="230" height="44.4" fill="#ededed"/>
<g clip-path="url(#f1)">
<ellipse cx="525" cy="474" rx="14" ry="6" fill="#dcdcdc" filter="url(#b2)"/>
<ellipse cx="637" cy="474" rx="14" ry="6" fill="#dedede" filter="url(#b2)"/>
<ellipse cx="571" cy="473" rx="12" ry="9" fill="#000" filter="url(#b2)"/>
<ellipse cx="592" cy="474" rx="10" ry="7.5" fill="#1a1a1a" filter="url(#b2)"/>
<ellipse cx="677" cy="472.5" rx="10" ry="8" fill="#0a0a0a" filter="url(#b2)"/>
<ellipse cx="695" cy="474" rx="8" ry="5" fill="#8a8a8a" filter="url(#b2)"/>
</g>
<rect x="493" y="452.3" width="230" height="44.4" fill="none" stroke="#000" stroke-width="1.5"/>
<!-- cyclin E -->
<rect x="493" y="502.3" width="230" height="44.4" fill="#ededed"/>
<g clip-path="url(#f2)">
<rect x="499" y="517" width="49" height="13" rx="6" fill="#000" filter="url(#b1)"/>
<ellipse cx="580" cy="524" rx="17" ry="3.5" fill="#b5b5b5" filter="url(#b2)"/>
<rect x="607" y="511" width="52" height="24" rx="10" fill="#000" filter="url(#b1)"/>
<rect x="667" y="519" width="48" height="9" rx="4.5" fill="#2a2a2a" filter="url(#b1)"/>
</g>
<rect x="493" y="502.3" width="230" height="44.4" fill="none" stroke="#000" stroke-width="1.5"/>
<!-- CDK2 -->
<rect x="493" y="552.7" width="230" height="44" fill="#ededed"/>
<g clip-path="url(#f3)">
<rect x="502" y="566" width="51" height="15" rx="7" fill="#000" filter="url(#b1)"/>
<ellipse cx="582" cy="574" rx="20" ry="4.5" fill="#9c9c9c" filter="url(#b2)"/>
<rect x="607" y="566" width="50" height="14" rx="7" fill="#000" filter="url(#b1)"/>
<ellipse cx="692" cy="574" rx="22" ry="4.5" fill="#a5a5a5" filter="url(#b2)"/>
</g>
<rect x="493" y="552.7" width="230" height="44" fill="none" stroke="#000" stroke-width="1.5"/>
<!-- GAPDH -->
<rect x="493" y="603.3" width="230" height="45" fill="#ededed"/>
<g clip-path="url(#f4)">
<rect x="495" y="610" width="226" height="32" rx="10" fill="#000" filter="url(#b1)"/>
</g>
<rect x="493" y="603.3" width="230" height="45" fill="none" stroke="#000" stroke-width="1.5"/>

<g font-size="14.5" text-anchor="end">
<text x="467" y="478">p27<tspan font-size="10" dy="-5">Kip1</tspan></text>
<text x="467" y="527.5">cyclin E</text>
<text x="467" y="578">CDK2</text>
<text x="467" y="628">GAPDH</text>
</g>
<polygon points="471,466.5 490,473 471,479.5"/>
<polygon points="471,516.5 490,523 471,529.5"/>
<polygon points="471,566.5 490,573 471,579.5"/>
<polygon points="471,616.5 490,623 471,629.5"/>
<g stroke="#000" stroke-width="0.8"><line x1="731" y1="473.5" x2="738" y2="473.5"/><line x1="731" y1="523.5" x2="738" y2="523.5"/><line x1="731" y1="573.5" x2="738" y2="573.5"/><line x1="731" y1="623.5" x2="738" y2="623.5"/></g>
<g><polygon points="730,473.5 733,472.3 733,474.7"/><polygon points="730,523.5 733,522.3 733,524.7"/><polygon points="730,573.5 733,572.3 733,574.7"/><polygon points="730,623.5 733,622.3 733,624.7"/></g>
<g font-size="10.3"><text x="739" y="477">27kDa</text><text x="739" y="527">55kDa</text><text x="739" y="577">30kDa</text><text x="739" y="627">37kDa</text></g>
<g font-size="12.5" text-anchor="middle">
<text transform="translate(529.5,681) rotate(-90)">L-dopa (-)</text>
<text transform="translate(584.5,681) rotate(-90)">L-dopa (+)</text>
<text transform="translate(640,681) rotate(-90)">L-dopa (-)</text>
<text transform="translate(695.5,681) rotate(-90)">L-dopa (+)</text>
</g>
</svg>
</body></html>
